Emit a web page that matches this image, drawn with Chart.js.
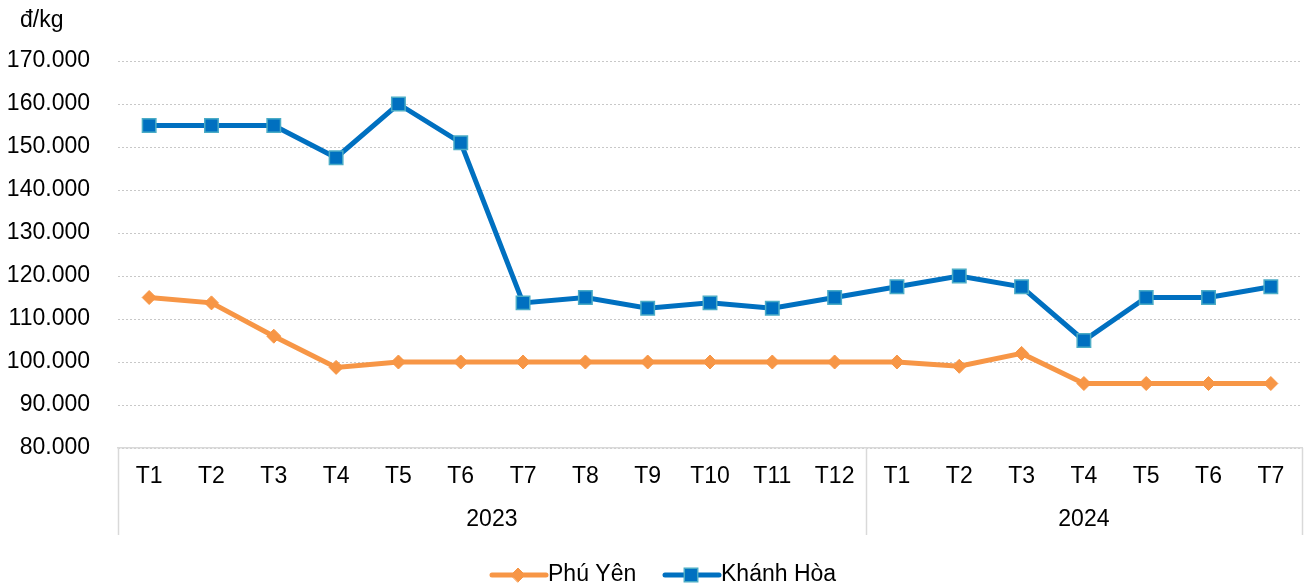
<!DOCTYPE html>
<html><head><meta charset="utf-8">
<script src="https://cdn.jsdelivr.net/npm/chart.js@4/dist/chart.umd.min.js"></script>
<style>html,body{margin:0;padding:0;background:#fff}#wrap{width:1306px;height:585px;position:relative}</style>
</head><body><div id="wrap"><canvas id="c" width="1306" height="585"></canvas></div>
<script>
const months = ["T1","T2","T3","T4","T5","T6","T7","T8","T9","T10","T11","T12","T1","T2","T3","T4","T5","T6","T7"];
const years = ["2023","2024"];
const yearCounts = [12, 7];
const phuYen = [115000,113750,106000,98750,100000,100000,100000,100000,100000,100000,100000,100000,100000,99000,102000,95000,95000,95000,95000];
const khanhHoa = [155000,155000,155000,147500,160000,151000,113750,115000,112500,113750,112500,115000,117500,120000,117500,105000,115000,115000,117500];
const yTicks = [80000,90000,100000,110000,120000,130000,140000,150000,160000,170000];
const unitLabel = "đ/kg";

const FONT = "'Liberation Sans', Arial, sans-serif";
const FS = 23;
const fmt = v => v.toLocaleString('en-US').replace(/,/g,'.');

const extras = {
  id: 'extras',
  afterDraw(chart) {
    const ctx = chart.ctx, x = chart.scales.x, a = chart.chartArea;
    ctx.save();
    ctx.fillStyle = '#000';
    ctx.font = `${FS}px ${FONT}`;
    ctx.textAlign = 'left'; ctx.textBaseline = 'middle';
    ctx.fillText(unitLabel, 20, 21);
    ctx.strokeStyle = '#d9d9d9'; ctx.lineWidth = 1.5;
    const bottom = a.bottom + 87;
    let start = 0;
    const bounds = [];
    yearCounts.forEach((n) => {
      const l = start === 0 ? a.left : (x.getPixelForValue(start - 1) + x.getPixelForValue(start)) / 2;
      const r = start + n >= months.length ? a.right : (x.getPixelForValue(start + n - 1) + x.getPixelForValue(start + n)) / 2;
      bounds.push([l, r]);
      start += n;
    });
    const edges = [a.left, ...bounds.map(b => b[1])];
    edges.forEach(e => { ctx.beginPath(); ctx.moveTo(Math.round(e)+0.5, a.bottom); ctx.lineTo(Math.round(e)+0.5, bottom); ctx.stroke(); });
    ctx.fillStyle = '#000'; ctx.textAlign = 'center';
    bounds.forEach((b, i) => ctx.fillText(years[i], (b[0] + b[1]) / 2, a.bottom + 72));
    const ly = 575;
    const starts = [490, 663];
    chart.data.datasets.forEach((d, i) => {
      const sx = starts[i];
      ctx.strokeStyle = d.borderColor; ctx.lineWidth = d.borderWidth; ctx.lineCap = 'round';
      ctx.beginPath(); ctx.moveTo(sx + 2, ly); ctx.lineTo(sx + 56, ly); ctx.stroke();
      ctx.fillStyle = d.pointBackgroundColor; ctx.strokeStyle = d.pointBorderColor; ctx.lineWidth = d.pointBorderWidth;
      Chart.helpers.drawPoint(ctx, {pointStyle: d.pointStyle, radius: d.pointRadius, borderWidth: d.pointBorderWidth, rotation: 0}, sx + 28, ly);
      ctx.fillStyle = '#000'; ctx.textAlign = 'left';
      ctx.fillText(d.label, sx + 58, ly);
    });
    ctx.restore();
  }
};

new Chart(document.getElementById('c'), {
  type: 'line',
  data: {
    labels: months,
    datasets: [
      { label: 'Phú Yên', data: phuYen, borderColor: '#F79646', backgroundColor: '#F79646', borderWidth: 5,
        pointStyle: 'rectRot', pointRadius: 7, pointBackgroundColor: '#F79646', pointBorderColor: '#F79646', pointBorderWidth: 1, tension: 0 },
      { label: 'Khánh Hòa', data: khanhHoa, borderColor: '#0070C0', backgroundColor: '#0070C0', borderWidth: 5,
        pointStyle: 'rect', pointRadius: 9.5, pointBackgroundColor: '#0070C0', pointBorderColor: '#4BACC6', pointBorderWidth: 1.5, tension: 0 }
    ]
  },
  options: {
    responsive: false, animation: false,
    layout: { autoPadding: false, padding: { top: 61, right: 4, left: 0, bottom: 0 } },
    plugins: { legend: { display: false }, tooltip: { enabled: false } },
    scales: {
      x: {
        offset: true,
        grid: { display: false, drawTicks: false },
        border: { display: true, color: '#d9d9d9', width: 1.5 },
        ticks: { color: '#000', font: { family: FONT, size: FS }, padding: 15, autoSkip: false, maxRotation: 0 },
        afterFit(s) { s.height = 137; s.paddingLeft = 0; s.paddingRight = 0; }
      },
      y: {
        min: 80000, max: 170000,
        afterBuildTicks(s) { s.ticks = yTicks.map(v => ({ value: v })); },
        grid: { color: '#c8c8c8', lineWidth: 1, drawTicks: false },
        border: { display: false, dash: [2, 2] },
        ticks: { color: '#000', font: { family: FONT, size: FS }, padding: 28, callback: v => fmt(v) },
        afterFit(s) { s.width = 118; s.paddingTop = 0; s.paddingBottom = 0; }
      }
    }
  },
  plugins: [extras]
});
</script></body></html>
